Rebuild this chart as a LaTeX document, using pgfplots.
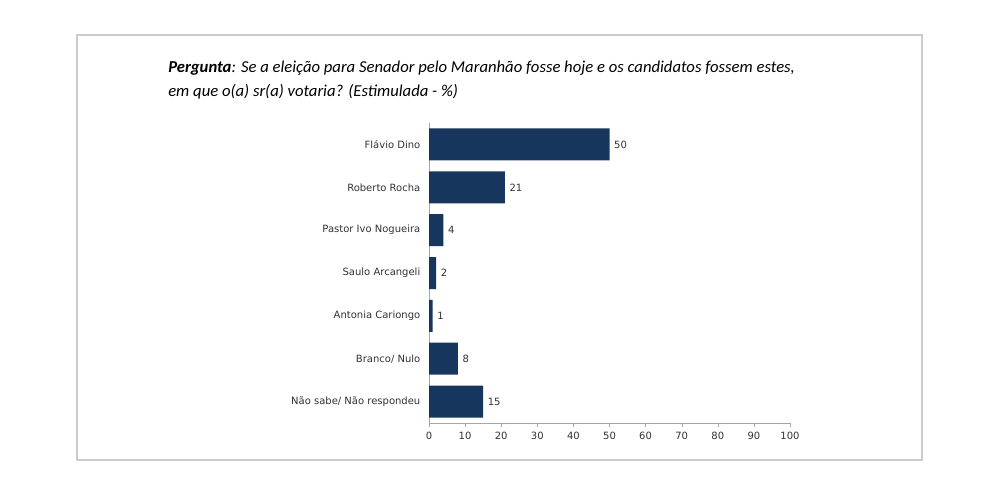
\documentclass[border=0pt]{standalone}
\usepackage{pgfplots}
\pgfplotsset{compat=1.18}
\usepackage{fontspec}
\setmainfont{DejaVu Sans}
\newfontfamily\carl{Carlito}
\definecolor{navy}{HTML}{17365D}
\begin{document}
\begin{tikzpicture}
\path[fill=white] (0pt,0pt) rectangle (750pt,365.25pt);
\draw[gray!40, line width=0.8pt] (57.75pt,20.25pt) rectangle (691.5pt,339pt);
\node[anchor=base west, inner sep=0, font=\carl\fontsize{12.5}{15}\selectfont] at (126pt,311.25pt) {\textbf{\textit{Pergunta}}\textit{: Se a eleição para Senador pelo Maranhão fosse hoje e os candidatos fossem estes,}};
\node[anchor=base west, inner sep=0, font=\carl\fontsize{12.5}{15}\selectfont] at (126pt,293.25pt) {\textit{em que o(a) sr(a) votaria? (Estimulada - \%)}};
\begin{axis}[at={(321.75pt,48pt)}, anchor=south west, scale only axis,
  width=270.75pt, height=225pt,
  xbar, bar width=24pt,
  xmin=0, xmax=100, xtick={0,10,...,100},
  ymin=-0.5, ymax=6.5,
  ytick={0,...,6}, y dir=reverse,
  yticklabels={Flávio Dino,Roberto Rocha,Pastor Ivo Nogueira,Saulo Arcangeli,Antonia Cariongo,Branco/ Nulo,Não sabe/ Não respondeu},
  axis lines*=left, axis line style={gray!70},
  x axis line style={-}, y axis line style={-},
  xtick style={gray!70}, ytick style={draw=none},
  tick align=outside, major tick length=3pt,
  tick label style={font=\fontsize{7.5}{9}\selectfont, text=black!80},
  /pgf/number format/assume math mode=true,
  nodes near coords, nodes near coords style={font=\fontsize{7.5}{9}\selectfont, text=black!80},
  point meta=x,
]
\addplot[fill=navy, draw=none] coordinates {(50,0) (21,1) (4,2) (2,3) (1,4) (8,5) (15,6)};
\end{axis}
\end{tikzpicture}
\end{document}
